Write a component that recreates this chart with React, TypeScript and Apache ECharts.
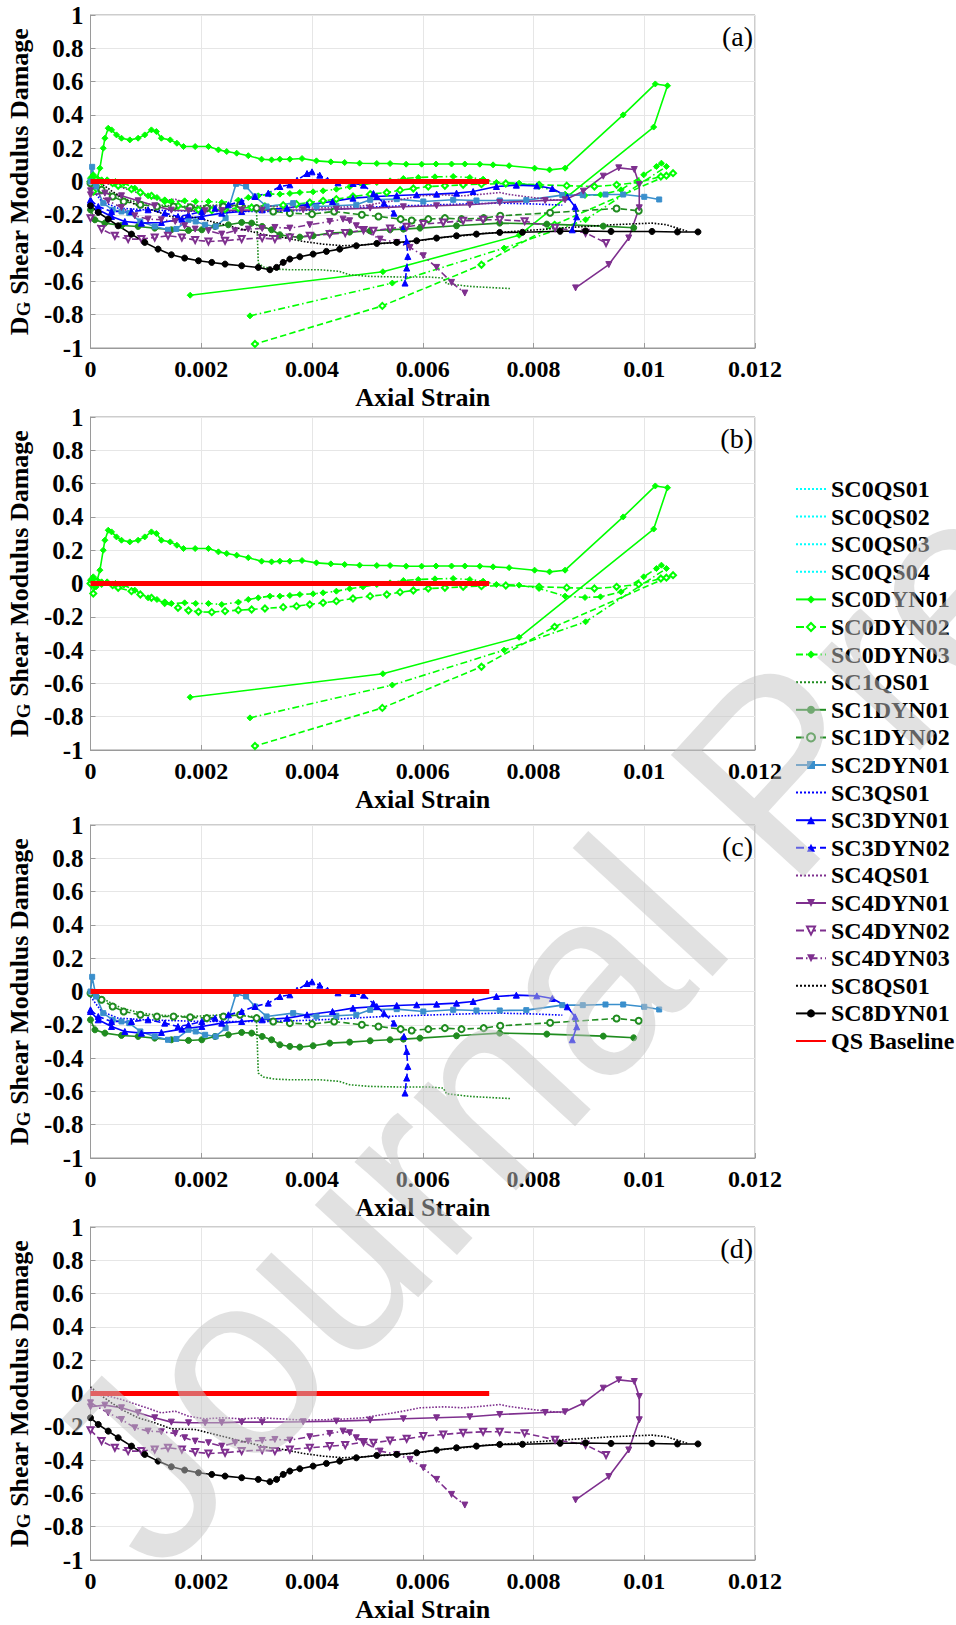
import React, { useEffect, useRef } from "react";
import * as echarts from "echarts";

// ---------------- DATA ----------------
const xTicks = [0, 0.002, 0.004, 0.006, 0.008, 0.01, 0.012];
const yTicks = [-1, -0.8, -0.6, -0.4, -0.2, 0, 0.2, 0.4, 0.6, 0.8, 1];
const panelLabels = ["(a)", "(b)", "(c)", "(d)"];

const SC0QS01: number[][] = [];
const SC0QS02: number[][] = [];
const SC0QS03: number[][] = [];
const SC0QS04: number[][] = [];

const SC0DYN01 = [[0,0.0],[0.00003,0.03],[0.00008,-0.02],[0.00012,0.02],[0.00017,0.08],[0.00023,0.2],[0.00026,0.26],[0.00032,0.32],[0.00038,0.31],[0.00047,0.28],[0.00056,0.26],[0.00071,0.25],[0.00086,0.26],[0.00098,0.28],[0.0011,0.31],[0.00119,0.3],[0.00128,0.26],[0.00144,0.25],[0.00156,0.23],[0.00168,0.21],[0.00189,0.21],[0.00213,0.21],[0.00231,0.19],[0.00246,0.18],[0.00264,0.17],[0.00285,0.155],[0.00309,0.134],[0.00327,0.13],[0.00342,0.134],[0.0036,0.134],[0.00382,0.138],[0.00408,0.124],[0.00434,0.118],[0.00459,0.114],[0.00486,0.11],[0.00517,0.108],[0.00541,0.108],[0.0057,0.104],[0.00598,0.104],[0.00624,0.105],[0.00652,0.105],[0.00676,0.105],[0.00703,0.104],[0.00727,0.1],[0.00756,0.095],[0.00802,0.08],[0.00829,0.07],[0.00857,0.08],[0.00962,0.4],[0.0102,0.586],[0.01042,0.575],[0.01017,0.327],[0.00774,-0.323],[0.00528,-0.542],[0.0018,-0.683]];
const SC0DYN02 = [[0,0],[0.00005,-0.06],[0.0001,0.01],[0.0002,0.0],[0.0004,-0.01],[0.0005,-0.026],[0.00074,-0.046],[0.0009,-0.066],[0.0011,-0.086],[0.00134,-0.116],[0.00158,-0.146],[0.00177,-0.162],[0.00195,-0.17],[0.00219,-0.172],[0.00243,-0.166],[0.00267,-0.16],[0.00291,-0.156],[0.00315,-0.15],[0.00348,-0.142],[0.00372,-0.136],[0.00396,-0.126],[0.0042,-0.116],[0.00444,-0.106],[0.00474,-0.09],[0.00505,-0.076],[0.00535,-0.066],[0.00559,-0.052],[0.00583,-0.042],[0.0061,-0.03],[0.0064,-0.026],[0.00673,-0.02],[0.00706,-0.016],[0.0075,-0.012],[0.0081,-0.02],[0.0086,-0.025],[0.0091,-0.03],[0.0095,-0.02],[0.0099,-0.005],[0.0103,0.03],[0.01052,0.05],[0.0104,0.035],[0.00838,-0.26],[0.00706,-0.5],[0.00527,-0.747],[0.00297,-0.976]];
const SC0DYN03 = [[0,0.02],[0.00005,0.04],[0.0001,-0.02],[0.0002,0.01],[0.0003,0.01],[0.00045,0.0],[0.0006,-0.01],[0.0008,-0.04],[0.00104,-0.086],[0.0012,-0.096],[0.00134,-0.112],[0.00146,-0.12],[0.0017,-0.116],[0.0019,-0.12],[0.00213,-0.12],[0.00237,-0.126],[0.00267,-0.112],[0.00285,-0.096],[0.00303,-0.086],[0.00324,-0.076],[0.00342,-0.076],[0.0036,-0.072],[0.00378,-0.066],[0.00402,-0.062],[0.0042,-0.056],[0.00444,-0.046],[0.00468,-0.032],[0.00492,-0.02],[0.00517,-0.006],[0.00541,0.004],[0.00565,0.018],[0.00592,0.024],[0.00622,0.028],[0.00655,0.03],[0.00685,0.024],[0.00709,0.014],[0.00733,-0.006],[0.00774,-0.01],[0.0081,-0.03],[0.00857,-0.076],[0.00893,-0.084],[0.00921,-0.08],[0.00958,-0.05],[0.00999,0.04],[0.01022,0.09],[0.01031,0.11],[0.0104,0.09],[0.00894,-0.23],[0.00747,-0.4],[0.00545,-0.61],[0.00288,-0.807]];
const SC1QS01 = [[0,0.01],[0.0001,-0.01],[0.0002,-0.04],[0.00056,-0.1],[0.00092,-0.13],[0.00116,-0.14],[0.00146,-0.146],[0.00177,-0.15],[0.00207,-0.146],[0.00237,-0.14],[0.00273,-0.146],[0.00297,-0.15],[0.003,-0.19],[0.00303,-0.49],[0.00312,-0.514],[0.00333,-0.526],[0.0036,-0.53],[0.00414,-0.53],[0.0045,-0.54],[0.00468,-0.56],[0.00505,-0.57],[0.00565,-0.574],[0.00613,-0.574],[0.00637,-0.58],[0.00643,-0.614],[0.00685,-0.63],[0.00739,-0.64],[0.0076,-0.643]];
const SC1DYN01 = [[0,-0.17],[0.00008,-0.23],[0.00026,-0.25],[0.00056,-0.264],[0.00086,-0.27],[0.00116,-0.28],[0.00146,-0.29],[0.00177,-0.294],[0.00201,-0.29],[0.00225,-0.27],[0.00249,-0.26],[0.00273,-0.246],[0.00291,-0.25],[0.0031,-0.27],[0.00327,-0.29],[0.00342,-0.32],[0.0036,-0.33],[0.00378,-0.334],[0.00402,-0.326],[0.00432,-0.31],[0.00468,-0.304],[0.00505,-0.296],[0.00541,-0.29],[0.00565,-0.286],[0.00595,-0.28],[0.00661,-0.266],[0.00739,-0.25],[0.00824,-0.256],[0.00926,-0.268],[0.00981,-0.278]];
const SC1DYN02 = [[0,-0.01],[0.0002,-0.05],[0.0004,-0.09],[0.0006,-0.12],[0.0009,-0.14],[0.0012,-0.15],[0.0015,-0.15],[0.0018,-0.155],[0.0021,-0.16],[0.0024,-0.15],[0.0027,-0.14],[0.003,-0.16],[0.0033,-0.18],[0.0036,-0.19],[0.004,-0.196],[0.0044,-0.18],[0.0049,-0.2],[0.0052,-0.21],[0.0056,-0.226],[0.0058,-0.234],[0.0061,-0.226],[0.0064,-0.22],[0.0067,-0.226],[0.0071,-0.22],[0.0074,-0.206],[0.0083,-0.188],[0.0095,-0.162],[0.0099,-0.176]];
const SC2DYN01 = [[0,0.0],[0.00003,0.088],[0.0001,-0.03],[0.00023,-0.13],[0.0004,-0.17],[0.00056,-0.18],[0.0007,-0.19],[0.0009,-0.24],[0.00116,-0.27],[0.0014,-0.29],[0.00155,-0.285],[0.00177,-0.23],[0.0019,-0.24],[0.00207,-0.26],[0.00226,-0.27],[0.00244,-0.22],[0.00263,-0.014],[0.00281,-0.03],[0.00297,-0.09],[0.00318,-0.15],[0.00366,-0.13],[0.00408,-0.15],[0.00444,-0.146],[0.0048,-0.14],[0.00505,-0.11],[0.00553,-0.106],[0.00601,-0.12],[0.00655,-0.11],[0.00697,-0.114],[0.00739,-0.114],[0.00787,-0.112],[0.00852,-0.082],[0.00889,-0.082],[0.0093,-0.078],[0.00962,-0.078],[0.01,-0.092],[0.01027,-0.108]];
const SC3QS01 = [[0,-0.03],[0.0002,-0.12],[0.0005,-0.16],[0.001,-0.17],[0.0015,-0.175],[0.002,-0.18],[0.0025,-0.18],[0.003,-0.18],[0.00324,-0.18],[0.00384,-0.174],[0.00444,-0.166],[0.00505,-0.154],[0.00565,-0.146],[0.00625,-0.14],[0.00685,-0.134],[0.00739,-0.13],[0.008,-0.135],[0.00852,-0.142]];
const SC3DYN01 = [[0,-0.12],[0.00014,-0.17],[0.00038,-0.21],[0.00062,-0.24],[0.00092,-0.25],[0.00128,-0.246],[0.00165,-0.226],[0.00201,-0.21],[0.00237,-0.19],[0.00273,-0.18],[0.0031,-0.17],[0.00355,-0.16],[0.00391,-0.14],[0.00437,-0.12],[0.00474,-0.1],[0.00517,-0.09],[0.00553,-0.084],[0.00589,-0.08],[0.00625,-0.076],[0.00661,-0.07],[0.00691,-0.06],[0.00733,-0.03],[0.00769,-0.022],[0.00806,-0.026],[0.00834,-0.042],[0.00861,-0.092],[0.00875,-0.152],[0.00878,-0.212],[0.0087,-0.29]];
const SC3DYN02 = [[0,-0.11],[0.00014,-0.15],[0.00038,-0.18],[0.00074,-0.18],[0.00104,-0.17],[0.00134,-0.19],[0.00158,-0.21],[0.00177,-0.2],[0.00201,-0.18],[0.00225,-0.16],[0.00249,-0.14],[0.00273,-0.12],[0.00297,-0.09],[0.00321,-0.07],[0.00342,-0.03],[0.0036,-0.02],[0.00373,0.008],[0.00391,0.048],[0.004,0.058],[0.00414,0.038],[0.00428,0.008],[0.00447,-0.008],[0.00474,-0.012],[0.00493,-0.022],[0.00511,-0.072],[0.0053,-0.13],[0.00548,-0.19],[0.00566,-0.27],[0.00571,-0.36],[0.00573,-0.45],[0.00571,-0.52],[0.00568,-0.61]];
const SC4QS01 = [[0,0.03],[0.0001,0.0],[0.00026,-0.01],[0.00056,-0.036],[0.00092,-0.076],[0.00128,-0.116],[0.00153,-0.106],[0.00177,-0.136],[0.00207,-0.152],[0.00237,-0.146],[0.00273,-0.152],[0.0031,-0.146],[0.00384,-0.16],[0.00444,-0.156],[0.00493,-0.146],[0.00529,-0.126],[0.00565,-0.106],[0.00595,-0.086],[0.00637,-0.08],[0.00673,-0.086],[0.00709,-0.076],[0.00739,-0.066],[0.00756,-0.078],[0.00802,-0.098],[0.0083,-0.108],[0.00857,-0.116]];
const SC4DYN01 = [[0,-0.08],[0.00026,-0.07],[0.00056,-0.086],[0.00086,-0.116],[0.00116,-0.146],[0.00146,-0.172],[0.00177,-0.176],[0.00207,-0.176],[0.00237,-0.175],[0.00273,-0.172],[0.0031,-0.172],[0.00384,-0.17],[0.00444,-0.166],[0.00505,-0.16],[0.00565,-0.152],[0.00625,-0.146],[0.00685,-0.14],[0.00739,-0.126],[0.00821,-0.114],[0.00857,-0.11],[0.0089,-0.058],[0.00926,0.032],[0.00954,0.082],[0.00982,0.072],[0.00991,-0.018],[0.00991,-0.158],[0.00972,-0.339],[0.00936,-0.499],[0.00876,-0.639]];
const SC4DYN02 = [[0,-0.22],[0.0002,-0.286],[0.00044,-0.326],[0.00068,-0.346],[0.00092,-0.346],[0.00116,-0.336],[0.0014,-0.326],[0.00165,-0.336],[0.00189,-0.352],[0.00213,-0.36],[0.00243,-0.356],[0.00273,-0.346],[0.0031,-0.34],[0.00333,-0.346],[0.0036,-0.336],[0.00396,-0.326],[0.00432,-0.316],[0.0046,-0.31],[0.00493,-0.292],[0.00511,-0.296],[0.00541,-0.282],[0.00571,-0.272],[0.00601,-0.256],[0.00637,-0.246],[0.00673,-0.236],[0.00709,-0.23],[0.00739,-0.23],[0.00784,-0.238],[0.00839,-0.278],[0.00894,-0.308],[0.00931,-0.369]];
const SC4DYN03 = [[0,-0.056],[0.00032,-0.116],[0.00056,-0.156],[0.0008,-0.206],[0.00104,-0.226],[0.00128,-0.23],[0.00153,-0.24],[0.0017,-0.266],[0.00189,-0.286],[0.00213,-0.296],[0.00237,-0.316],[0.00261,-0.296],[0.00285,-0.286],[0.0031,-0.282],[0.00333,-0.276],[0.0036,-0.28],[0.00396,-0.26],[0.00432,-0.24],[0.00456,-0.226],[0.00468,-0.236],[0.0048,-0.266],[0.00493,-0.292],[0.00523,-0.346],[0.00553,-0.366],[0.00577,-0.396],[0.00601,-0.446],[0.00625,-0.516],[0.00652,-0.606],[0.00676,-0.67]];
const SC8QS01 = [[0,0.04],[0.00014,0.0],[0.00038,-0.056],[0.00062,-0.106],[0.00086,-0.146],[0.00116,-0.176],[0.00146,-0.212],[0.00189,-0.216],[0.00213,-0.236],[0.00249,-0.266],[0.00285,-0.296],[0.00324,-0.326],[0.00348,-0.336],[0.00384,-0.36],[0.0042,-0.376],[0.00456,-0.386],[0.00493,-0.38],[0.00529,-0.372],[0.00565,-0.366],[0.00601,-0.352],[0.00637,-0.336],[0.00673,-0.326],[0.00709,-0.312],[0.00739,-0.306],[0.00848,-0.28],[0.0094,-0.26],[0.01014,-0.25],[0.01041,-0.26],[0.01078,-0.3]];
const SC8DYN01 = [[0,-0.146],[0.00014,-0.186],[0.00032,-0.226],[0.0005,-0.266],[0.00074,-0.316],[0.00098,-0.366],[0.00122,-0.406],[0.00146,-0.44],[0.0017,-0.46],[0.00195,-0.476],[0.00219,-0.486],[0.00243,-0.496],[0.00273,-0.506],[0.00303,-0.516],[0.00324,-0.53],[0.00336,-0.516],[0.00348,-0.486],[0.0036,-0.466],[0.00378,-0.452],[0.00402,-0.436],[0.00426,-0.42],[0.0045,-0.406],[0.0048,-0.386],[0.00517,-0.372],[0.00553,-0.366],[0.00589,-0.356],[0.00625,-0.34],[0.00661,-0.326],[0.00697,-0.316],[0.00739,-0.306],[0.0078,-0.305],[0.00848,-0.299],[0.00894,-0.297],[0.0094,-0.3],[0.01014,-0.3],[0.0106,-0.303],[0.01097,-0.303]];
const QSBaseline = [[0,0],[0.0072,0]];

// ---------------- STYLE ----------------
const FONT = "Liberation Serif";
const C_CYAN = "#00ffff";
const C_LIME = "#00ff00";
const C_GREEN = "#1f8c1f";
const C_STEEL = "#3a8fcc";
const C_BLUE = "#0000ff";
const C_PURPLE = "#7e2f8e";
const C_BLACK = "#000000";
const C_RED = "#ff0000";
const DASHDOT = [7, 3, 1.5, 3];

type Def = { name: string; data: number[][]; color: string; line: any; symbol: string; rot?: number; group: number };
const defs: Def[] = [
  { name: "SC0QS01", data: SC0QS01, color: C_CYAN, line: "dotted", symbol: "none", group: 1 },
  { name: "SC0QS02", data: SC0QS02, color: C_CYAN, line: "dotted", symbol: "none", group: 1 },
  { name: "SC0QS03", data: SC0QS03, color: C_CYAN, line: "dotted", symbol: "none", group: 1 },
  { name: "SC0QS04", data: SC0QS04, color: C_CYAN, line: "dotted", symbol: "none", group: 1 },
  { name: "SC0DYN01", data: SC0DYN01, color: C_LIME, line: "solid", symbol: "diamond", group: 1 },
  { name: "SC0DYN02", data: SC0DYN02, color: C_LIME, line: "dashed", symbol: "emptyDiamond", group: 1 },
  { name: "SC0DYN03", data: SC0DYN03, color: C_LIME, line: DASHDOT, symbol: "diamond", group: 1 },
  { name: "SC1QS01", data: SC1QS01, color: C_GREEN, line: "dotted", symbol: "none", group: 2 },
  { name: "SC1DYN01", data: SC1DYN01, color: C_GREEN, line: "solid", symbol: "circle", group: 2 },
  { name: "SC1DYN02", data: SC1DYN02, color: C_GREEN, line: "dashed", symbol: "emptyCircle", group: 2 },
  { name: "SC2DYN01", data: SC2DYN01, color: C_STEEL, line: "solid", symbol: "rect", group: 2 },
  { name: "SC3QS01", data: SC3QS01, color: C_BLUE, line: "dotted", symbol: "none", group: 2 },
  { name: "SC3DYN01", data: SC3DYN01, color: C_BLUE, line: "solid", symbol: "triangle", group: 2 },
  { name: "SC3DYN02", data: SC3DYN02, color: C_BLUE, line: "dashed", symbol: "triangle", group: 2 },
  { name: "SC4QS01", data: SC4QS01, color: C_PURPLE, line: "dotted", symbol: "none", group: 3 },
  { name: "SC4DYN01", data: SC4DYN01, color: C_PURPLE, line: "solid", symbol: "triangle", rot: 180, group: 3 },
  { name: "SC4DYN02", data: SC4DYN02, color: C_PURPLE, line: "dashed", symbol: "emptyTriangle", rot: 180, group: 3 },
  { name: "SC4DYN03", data: SC4DYN03, color: C_PURPLE, line: DASHDOT, symbol: "triangle", rot: 180, group: 3 },
  { name: "SC8QS01", data: SC8QS01, color: C_BLACK, line: "dotted", symbol: "none", group: 3 },
  { name: "SC8DYN01", data: SC8DYN01, color: C_BLACK, line: "solid", symbol: "circle", group: 3 },
];

const GRID_LEFT = 90.5;
const GRID_W = 664.5;
const GRID_H = 333;
const GRID_TOPS = [15, 417, 825, 1227];

function mkSeries(d: Def, gi: number) {
  const noSym = d.symbol === "none";
  return {
    type: "line",
    name: d.name,
    xAxisIndex: gi,
    yAxisIndex: gi,
    data: d.data,
    symbol: noSym ? "circle" : d.symbol,
    symbolSize: d.symbol === "rect" ? 5 : 6,
    symbolRotate: d.rot || 0,
    showSymbol: !noSym,
    lineStyle: { color: d.color, width: 1.6, type: d.line },
    itemStyle: { color: d.color, borderColor: d.color, opacity: noSym ? 0 : 1 },
    emphasis: { disabled: true },
    z: 3,
  };
}

function baseline(gi: number) {
  return {
    type: "line",
    name: "QS Baseline",
    xAxisIndex: gi,
    yAxisIndex: gi,
    data: QSBaseline,
    symbol: "circle",
    showSymbol: false,
    lineStyle: { color: C_RED, width: 5 },
    itemStyle: { color: C_RED, opacity: 0 },
    emphasis: { disabled: true },
    z: 4,
  };
}

function fmtX(v: number) {
  return String(+v.toFixed(4));
}
function fmtY(v: number) {
  return String(+v.toFixed(1));
}

export default function App() {
  const ref = useRef<HTMLDivElement>(null);
  useEffect(() => {
    if (!ref.current) return;
    const chart = echarts.init(ref.current, undefined, { renderer: "svg" });

    const grid = GRID_TOPS.map((t) => ({
      left: GRID_LEFT, top: t, width: GRID_W, height: GRID_H,
      containLabel: false, outerBoundsMode: "none",
      show: true, borderColor: "#9a9a9a", borderWidth: 1, backgroundColor: "#ffffff",
    }));
    const xAxis = GRID_TOPS.map((_, i) => ({
      type: "value", gridIndex: i, min: xTicks[0], max: xTicks[xTicks.length - 1], interval: 0.002,
      name: "Axial Strain", nameLocation: "middle", nameGap: 36,
      nameTextStyle: { fontFamily: FONT, fontWeight: "bold", fontSize: 26, color: "#000" },
      axisLabel: { fontFamily: FONT, fontWeight: "bold", fontSize: 24, color: "#000", margin: 9, formatter: fmtX, showMinLabel: true, showMaxLabel: true },
      axisLine: { onZero: false, lineStyle: { color: "#9a9a9a" } },
      axisTick: { inside: true, length: 5, lineStyle: { color: "#9a9a9a" } },
      splitLine: { show: true, lineStyle: { color: "#e6e6e6", width: 1 } },
    }));
    const yAxis = GRID_TOPS.map((_, i) => ({
      type: "value", gridIndex: i, min: yTicks[0], max: yTicks[yTicks.length - 1], interval: 0.2,
      name: "{d|D}{g|G}{t| Shear Modulus Damage}", nameLocation: "middle", nameGap: 41, nameRotate: 90,
      nameTextStyle: {
        fontFamily: FONT, fontWeight: "bold", fontSize: 26, color: "#000",
        rich: {
          d: { fontFamily: FONT, fontWeight: "bold", fontSize: 26, color: "#000", verticalAlign: "top", lineHeight: 27 },
          g: { fontFamily: FONT, fontWeight: "bold", fontSize: 19, color: "#000", verticalAlign: "bottom", lineHeight: 19, padding: [18, 0, 0, 0] },
          t: { fontFamily: FONT, fontWeight: "bold", fontSize: 26, color: "#000", verticalAlign: "top", lineHeight: 27 },
        },
      },
      axisLabel: { fontFamily: FONT, fontWeight: "bold", fontSize: 25, color: "#000", margin: 7, formatter: fmtY, showMinLabel: true, showMaxLabel: true },
      axisLine: { onZero: false, lineStyle: { color: "#9a9a9a" } },
      axisTick: { inside: true, length: 5, lineStyle: { color: "#9a9a9a" } },
      splitLine: { show: true, lineStyle: { color: "#e6e6e6", width: 1 } },
    }));

    const series: any[] = [];
    defs.forEach((d) => series.push(mkSeries(d, 0)));
    series.push(baseline(0));
    [1, 2, 3].forEach((gi) => {
      defs.filter((d) => d.group === gi && d.data.length > 0).forEach((d) => series.push(mkSeries(d, gi)));
      series.push(baseline(gi));
    });

    const legendNames = defs.map((d) => d.name).concat(["QS Baseline"]);

    const graphic: any[] = GRID_TOPS.map((t, i) => ({
      type: "text", x: GRID_LEFT + GRID_W - 2, y: t + 7, z: 50, silent: true,
      style: { text: panelLabels[i], fontFamily: FONT, fontSize: 28, fontWeight: "normal", fill: "#000", align: "right", verticalAlign: "top" },
    }));
    graphic.push({
      type: "text", x: 189, y: 1607, rotation: (47.5 * Math.PI) / 180, z: 100, silent: true,
      style: { text: "Journal Pre-proof", fontFamily: "Liberation Sans", fontSize: 262, fill: "#c4c4c4", opacity: 0.5, align: "left", verticalAlign: "bottom" },
    });

    chart.setOption({
      animation: false,
      backgroundColor: "#ffffff",
      grid, xAxis, yAxis, series, graphic,
      legend: {
        data: legendNames, orient: "vertical", left: 795, top: 477, padding: 0,
        itemWidth: 30, itemHeight: 10, itemGap: 3.6, selectedMode: false,
        textStyle: { fontFamily: FONT, fontWeight: "bold", fontSize: 24, lineHeight: 24, color: "#000" },
      },
    });
    return () => chart.dispose();
  }, []);
  return <div ref={ref} style={{ position: "absolute", left: 0, top: 0, width: 956, height: 1625, overflow: "hidden", background: "#fff" }} />;
}
